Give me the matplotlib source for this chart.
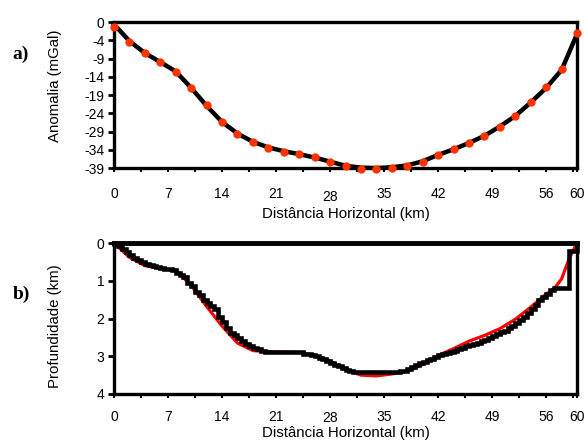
import numpy as np
import matplotlib
matplotlib.use("Agg")
import matplotlib.pyplot as plt

plt.rcParams['font.family'] = ['Liberation Sans', 'DejaVu Sans']

# ---- data: panel a (gravity anomaly) ----
dist_obs = [0, 2, 4, 6, 8, 10, 12, 14, 16, 18, 20, 22, 24, 26, 28, 30,
            32, 34, 36, 38, 40, 42, 44, 46, 48, 50, 52, 54, 56, 58, 60]
anom_obs = [-1.4, -5.3, -8.4, -10.6, -13.3, -17.7, -22.3, -26.6, -29.9, -32.1,
            -33.6, -34.6, -35.3, -36.1, -37.3, -38.4, -39.3, -39.3, -39.1, -38.4,
            -37.3, -35.6, -34.0, -32.4, -30.4, -28.0, -25.0, -21.3, -17.4, -12.6, -3.0]
anom_calc = [-0.6, -5.1, -8.3, -10.7, -13.2, -17.6, -22.4, -26.7, -29.8, -32.0,
             -33.5, -34.5, -35.3, -36.2, -37.3, -38.4, -38.9, -39.0, -38.8, -38.3,
             -37.2, -35.5, -34.0, -32.3, -30.4, -27.9, -25.1, -21.5, -17.6, -12.8, -3.2]
anom_ticks = [0, -4.875, -9.75, -14.625, -19.5, -24.375, -29.25, -34.125, -39]
anom_labels = ['0', '-4', '-9', '-14', '-19', '-24', '-29', '-34', '-39']

# ---- data: panel b (basement depth) ----
dist_true = [0, 2, 4, 6, 8, 10, 12, 14, 16, 18, 20, 22, 24, 26, 28, 30, 32, 34,
             36, 38, 40, 42, 44, 46, 48, 50, 52, 54, 56, 57, 58, 59, 60]
depth_true = [0.0, 0.38, 0.60, 0.68, 0.72, 1.12, 1.68, 2.20, 2.65, 2.85, 2.88, 2.89,
              2.90, 2.97, 3.12, 3.35, 3.50, 3.52, 3.47, 3.40, 3.22, 2.98, 2.80, 2.60,
              2.45, 2.27, 2.02, 1.70, 1.35, 1.22, 0.95, 0.40, 0.0]

# inverted depth for prisms of equal width spanning 0-60 km
depth_inv = [0.02, 0.08, 0.15, 0.25, 0.33, 0.40, 0.45, 0.50, 0.55, 0.58,
             0.60, 0.63, 0.66, 0.68, 0.70, 0.72, 0.80, 0.85, 0.90, 1.05,
             1.15, 1.30, 1.38, 1.50, 1.58, 1.68, 1.75, 1.95, 2.10, 2.25,
             2.38, 2.45, 2.52, 2.60, 2.68, 2.72, 2.78, 2.82, 2.85, 2.88,
             2.88, 2.88, 2.88, 2.88, 2.88, 2.88, 2.88, 2.88, 2.90, 2.93,
             2.95, 2.97, 3.00, 3.05, 3.08, 3.12, 3.17, 3.22, 3.27, 3.32,
             3.36, 3.40, 3.42, 3.42, 3.42, 3.42, 3.42, 3.42, 3.42, 3.42,
             3.42, 3.42, 3.42, 3.42, 3.40, 3.38, 3.35, 3.28, 3.22, 3.18,
             3.14, 3.10, 3.06, 3.02, 2.98, 2.95, 2.92, 2.88, 2.85, 2.82,
             2.78, 2.74, 2.70, 2.67, 2.64, 2.60, 2.56, 2.52, 2.47, 2.42,
             2.37, 2.32, 2.26, 2.20, 2.12, 2.04, 1.95, 1.85, 1.75, 1.65,
             1.52, 1.42, 1.35, 1.25, 1.20, 1.18, 1.18, 1.18, 0.22, 0.20]

dist_ticks = [0, 7, 14, 21, 28, 35, 42, 49, 56, 60]
dist_labels = ['0', '7', '14', '21', '28', '35', '42', '49', '56', '60']
minor_ticks = list(np.arange(0, 60, 3.5)) + [60]
depth_ticks = [0, 1, 2, 3, 4]

fig = plt.figure(figsize=(5.85, 4.42), dpi=100)
ax1 = fig.add_axes([0.1949, 0.6199, 0.7915, 0.3303])
ax2 = fig.add_axes([0.1949, 0.1086, 0.7915, 0.3416])

fs_tick = 10
fs_lab = 10.8

def style(ax, xlab_y, ylab_y, pad, off28):
    for s in ax.spines.values():
        s.set_linewidth(2.4)
        s.set_color('black')
    ax.set_xlim(0, 60)
    ax.set_xticks(minor_ticks, minor=True)
    ax.set_xticks(dist_ticks)
    ax.set_xticklabels(dist_labels, fontsize=fs_tick)
    ax.tick_params(axis='x', which='both', direction='out', length=3, width=1.5,
                   pad=pad)
    ax.tick_params(axis='y', direction='out', length=4, width=2, pad=3,
                   labelsize=fs_tick)
    for lab in ax.get_xticklabels():
        if lab.get_text() == '28':
            lab.set_y(off28)
    ax.set_xlabel('Distância Horizontal (km)', fontsize=fs_lab, va='top')
    ax.xaxis.set_label_coords(0.5, xlab_y)
    ax.yaxis.label.set_va('center')
    ax.yaxis.set_label_coords(-0.127, ylab_y)

# panel a
ax1.plot(dist_obs, anom_calc, color='black', lw=3.2, zorder=3, clip_on=False)
ax1.plot(dist_obs, anom_obs, 'o', color='#FF3300', ms=6, mec='none', zorder=4,
         clip_on=False)
ax1.set_ylim(-39, 0)
ax1.set_yticks(anom_ticks)
ax1.set_yticklabels(anom_labels)
ax1.set_ylabel('Anomalia (mGal)', fontsize=fs_lab)
style(ax1, -0.27, 0.565, 10.5, -0.022)

# panel b
edges = np.linspace(0, 60, len(depth_inv) + 1)
rep = np.repeat(edges, 2)[1:-1]
step_x = np.concatenate([[0], rep, [60]])
step_y = np.concatenate([[0], np.repeat(depth_inv, 2), [0]])
ax2.plot(dist_true, depth_true, color='#FF0000', lw=2.3, zorder=3, clip_on=False)
ax2.plot(step_x, step_y, color='black', lw=3.3, zorder=4, clip_on=False,
         solid_joinstyle='miter')
ax2.plot([0, 60], [0, 0], color='black', lw=3.5, zorder=5, clip_on=False)
ax2.set_ylim(4, 0)
ax2.set_yticks(depth_ticks)
ax2.set_ylabel('Profundidade (km)', fontsize=fs_lab)
style(ax2, -0.21, 0.45, 8.5, -0.01)

fig.text(0.022, 0.878, 'a)', fontsize=14, fontweight='bold',
         family=['Liberation Serif', 'DejaVu Serif'], va='center')
fig.text(0.022, 0.335, 'b)', fontsize=14, fontweight='bold',
         family=['Liberation Serif', 'DejaVu Serif'], va='center')

fig.savefig('out.png', dpi=100)
